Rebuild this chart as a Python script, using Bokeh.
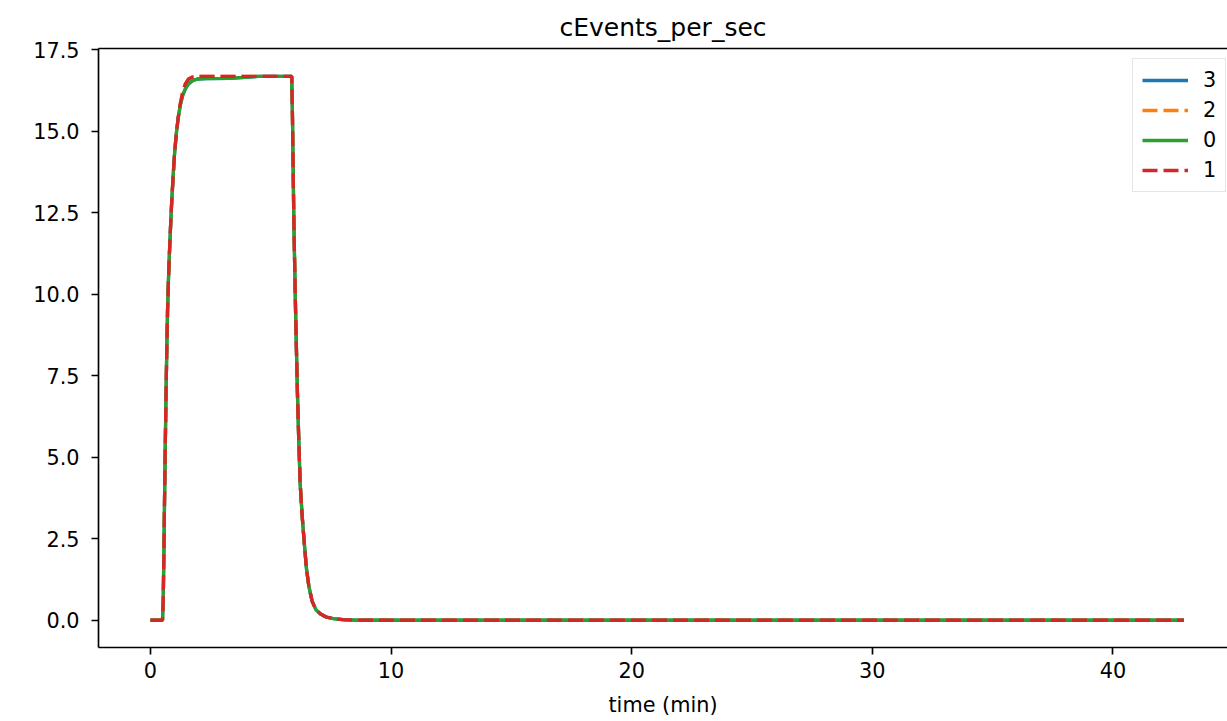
from bokeh.plotting import figure
from bokeh.models import (Range1d, LinearAxis, FixedTicker, NumeralTickFormatter,
                          Legend, LegendItem, ColumnDataSource)
from bokeh.embed import file_html
from bokeh.resources import INLINE

# ---- data ----
time_min = [0.0, 0.50, 0.53, 0.56, 0.59, 0.62, 0.65, 0.68, 0.71, 0.75, 0.79, 0.83,
            0.88, 0.94, 1.00, 1.07, 1.15, 1.24, 1.34, 1.45, 1.58, 1.75, 1.95, 2.3,
            3.3, 4.5, 5.87, 5.90, 5.93, 5.96, 5.99, 6.03, 6.07, 6.11, 6.16, 6.22,
            6.31, 6.40, 6.48, 6.58, 6.72, 6.88, 7.07, 7.3, 7.6, 8.0, 8.5, 9.0, 42.95]

series_3 = [0.0, 0.0, 0.6, 2.2, 4.0, 5.6, 7.1, 8.4, 9.5, 10.5, 11.3, 12.0,
            12.8, 13.6, 14.3, 14.9, 15.4, 15.8, 16.1, 16.3, 16.45, 16.55, 16.6, 16.61,
            16.62, 16.68, 16.68, 15.5, 13.8, 12.2, 11.0, 9.5, 8.17, 6.9, 5.6, 4.2,
            3.14, 2.3, 1.60, 1.05, 0.58, 0.32, 0.19, 0.10, 0.05, 0.02, 0.005, 0.0, 0.0]
series_2 = [0.0, 0.0, 0.6, 2.2, 4.0, 5.6, 7.1, 8.4, 9.5, 10.5, 11.3, 12.0,
            12.8, 13.6, 14.3, 14.9, 15.4, 15.85, 16.2, 16.45, 16.6, 16.66, 16.68, 16.68,
            16.68, 16.68, 16.68, 15.5, 13.8, 12.2, 11.0, 9.5, 8.17, 6.9, 5.6, 4.2,
            3.14, 2.3, 1.60, 1.05, 0.58, 0.32, 0.19, 0.10, 0.05, 0.02, 0.005, 0.0, 0.0]
series_0 = [0.0, 0.0, 0.6, 2.2, 4.0, 5.6, 7.1, 8.4, 9.5, 10.5, 11.3, 12.0,
            12.8, 13.6, 14.3, 14.9, 15.4, 15.8, 16.1, 16.3, 16.45, 16.55, 16.6, 16.61,
            16.62, 16.68, 16.68, 15.5, 13.8, 12.2, 11.0, 9.5, 8.17, 6.9, 5.6, 4.2,
            3.14, 2.3, 1.60, 1.05, 0.58, 0.32, 0.19, 0.10, 0.05, 0.02, 0.005, 0.0, 0.0]
series_1 = [0.0, 0.0, 0.6, 2.2, 4.0, 5.6, 7.1, 8.4, 9.5, 10.5, 11.3, 12.0,
            12.8, 13.6, 14.3, 14.9, 15.4, 15.85, 16.2, 16.45, 16.6, 16.66, 16.68, 16.68,
            16.68, 16.68, 16.68, 15.5, 13.8, 12.2, 11.0, 9.5, 8.17, 6.9, 5.6, 4.2,
            3.14, 2.3, 1.60, 1.05, 0.58, 0.32, 0.19, 0.10, 0.05, 0.02, 0.005, 0.0, 0.0]

series_names = ["3", "2", "0", "1"]
series_values = [series_3, series_2, series_0, series_1]
colors = ["#1f77b4", "#ff7f0e", "#2ca02c", "#d62728"]
dashes = ["solid", "15 6", "solid", "15 6"]

x_ticks = [0, 10, 20, 30, 40]
y_ticks = [0, 2.5, 5.0, 7.5, 10.0, 12.5, 15.0, 17.5]

FONT = "DejaVu Sans"
FS = "20.8px"

p = figure(width=1227, height=721,
           x_range=Range1d(-2.16, 44.76), y_range=Range1d(-0.835, 17.535),
           output_backend="svg", toolbar_location=None,
           min_border_left=98, min_border_right=0, min_border_top=48,
           min_border_bottom=74, x_axis_location=None, y_axis_location=None)
p.outline_line_color = None
p.xgrid.visible = False
p.ygrid.visible = False
p.background_fill_color = "white"
p.border_fill_color = "white"

p.title.text = "cEvents_per_sec"
p.title.text_font = FONT
p.title.text_font_size = "25px"
p.title.text_font_style = "normal"
p.title.text_color = "black"
p.title.align = "center"
p.title.vertical_align = "top"
p.title.offset = 4
p.title.standoff = 10

def style_axis(ax):
    ax.axis_line_color = "black"
    ax.axis_line_width = 1.67
    ax.major_tick_line_color = "black"
    ax.major_tick_line_width = 1.67
    ax.major_tick_in = 0
    ax.major_tick_out = 7
    ax.minor_tick_in = 0
    ax.minor_tick_out = 0
    ax.major_label_text_font = FONT
    ax.major_label_text_font_size = FS
    ax.major_label_text_color = "black"
    ax.axis_label_text_font = FONT
    ax.axis_label_text_font_size = FS
    ax.axis_label_text_font_style = "normal"
    ax.axis_label_text_color = "black"

xaxis = LinearAxis(ticker=FixedTicker(ticks=x_ticks), axis_label="time (min)")
style_axis(xaxis)
xaxis.major_label_standoff = 7
xaxis.axis_label_standoff = 12
p.add_layout(xaxis, "below")

yaxis = LinearAxis(ticker=FixedTicker(ticks=y_ticks),
                   formatter=NumeralTickFormatter(format="0.0"))
style_axis(yaxis)
yaxis.major_label_standoff = 12
p.add_layout(yaxis, "left")

topaxis = LinearAxis(ticker=FixedTicker(ticks=[]))
style_axis(topaxis)
topaxis.major_tick_out = 0
topaxis.major_label_text_font_size = "0px"
p.add_layout(topaxis, "above")

items = []
for name, vals, c, d in zip(series_names, series_values, colors, dashes):
    src = ColumnDataSource(dict(t=time_min, v=vals))
    r = p.line("t", "v", source=src, line_color=c, line_width=3.3, line_dash=d)
    items.append(LegendItem(label=name, renderers=[r]))

legend = Legend(items=items, location=(1034, 455), margin=0,
                padding=9, spacing=6, glyph_width=46, glyph_height=22,
                label_height=22, label_width=13, label_standoff=15,
                label_text_font=FONT, label_text_font_size=FS,
                label_text_color="black",
                border_line_color="#cccccc", border_line_width=1.5,
                background_fill_color="white", background_fill_alpha=0.8)
p.add_layout(legend)

open("out.html", "w").write(file_html(p, INLINE))
